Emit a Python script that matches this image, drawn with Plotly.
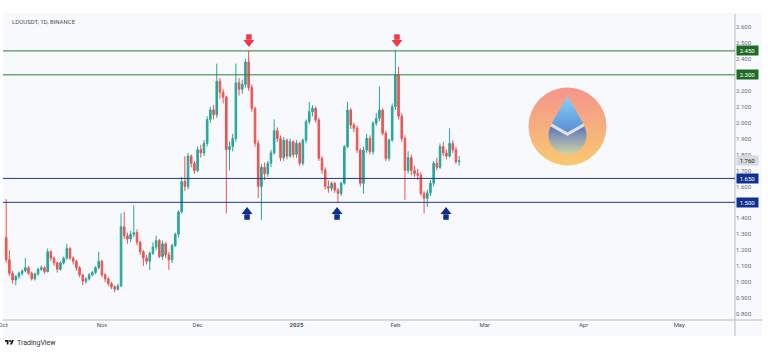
import base64
import pandas as pd
import plotly.graph_objects as go

# ---------------- data ----------------
TITLE = "LDOUSDT, 1D, BINANCE"
START_DATE = "2024-10-02"

opens = [1.28, 1.14, 1.055, 1.013, 1.034, 1.055, 1.07, 1.09, 1.055, 1.02, 1.05, 1.08, 1.09, 1.065, 1.19, 1.15,
         1.12, 1.08, 1.12, 1.15, 1.21, 1.15, 1.13, 1.09, 1.045, 1.005, 1.02, 1.045, 1.06, 1.09, 1.13,
         1.045, 1.02, 0.99, 0.97, 0.955, 0.975, 1.347, 1.29, 1.27, 1.30, 1.31, 1.25, 1.19, 1.15, 1.13,
         1.18, 1.22, 1.26, 1.16, 1.24, 1.17, 1.14, 1.23, 1.30, 1.44, 1.63, 1.60, 1.79, 1.745, 1.70,
         1.83, 1.81, 1.87, 2.02, 2.08, 2.05, 2.26, 2.19, 2.16, 1.83, 1.85, 1.90, 2.25, 2.21, 2.24, 2.38,
         2.22, 2.09, 1.87, 1.60, 1.72, 1.68, 1.745, 1.81, 1.95, 1.90, 1.78, 1.89, 1.79, 1.88, 1.80,
         1.87, 1.745, 1.89, 2.006, 2.069, 2.09, 2.017, 1.776, 1.703, 1.60, 1.588, 1.619, 1.577, 1.556,
         1.62, 1.849, 2.079, 1.985, 1.965, 1.828, 1.619, 1.828, 1.902, 1.818, 1.996, 2.027, 2.079,
         1.933, 1.776, 1.891, 2.10,
         2.30, 2.04, 1.90, 1.70, 1.78, 1.70, 1.68, 1.67, 1.556, 1.525, 1.56, 1.62, 1.745, 1.72, 1.85,
         1.81, 1.79, 1.87, 1.83, 1.755]
closes = [1.14, 1.055, 1.013, 1.034, 1.055, 1.07, 1.09, 1.055, 1.02, 1.05, 1.08, 1.09, 1.065, 1.19, 1.15, 1.12,
          1.08, 1.12, 1.15, 1.21, 1.15, 1.13, 1.09, 1.045, 1.005, 1.02, 1.045, 1.06, 1.09, 1.13, 1.045,
          1.02, 0.99, 0.97, 0.955, 0.975, 1.347, 1.29, 1.27, 1.30, 1.31, 1.25, 1.19, 1.15, 1.13, 1.18,
          1.22, 1.26, 1.16, 1.24, 1.17, 1.14, 1.23, 1.30, 1.44, 1.63, 1.60, 1.79, 1.745, 1.70, 1.83,
          1.81, 1.87, 2.02, 2.08, 2.05, 2.26, 2.19, 2.16, 1.83, 1.85, 1.90, 2.25, 2.21, 2.24, 2.38, 2.22,
          2.09, 1.87, 1.60, 1.72, 1.68, 1.745, 1.81, 1.95, 1.90, 1.78, 1.89, 1.79, 1.88, 1.80, 1.87,
          1.745, 1.89, 2.006, 2.069, 2.09, 2.017, 1.776, 1.703, 1.60, 1.588, 1.619, 1.577, 1.556, 1.62,
          1.849, 2.079, 1.985, 1.965, 1.828, 1.619, 1.828, 1.902, 1.818, 1.996, 2.027, 2.079, 1.933,
          1.776, 1.891, 2.10, 2.30,
          2.04, 1.90, 1.70, 1.78, 1.70, 1.68, 1.67, 1.556, 1.525, 1.56, 1.62, 1.745, 1.72, 1.85, 1.81,
          1.79, 1.87, 1.83, 1.755, 1.76]
highs = [1.52, 1.20, 1.07, 1.045, 1.065, 1.08, 1.15, 1.10, 1.065, 1.06, 1.09, 1.105, 1.10, 1.21, 1.20, 1.16,
         1.13, 1.13, 1.16, 1.24, 1.22, 1.16, 1.14, 1.10, 1.05, 1.03, 1.055, 1.07, 1.10, 1.19, 1.14,
         1.055, 1.03, 1.00, 0.98, 0.99, 1.43, 1.44, 1.31, 1.32, 1.48, 1.33, 1.26, 1.20, 1.17, 1.19,
         1.25, 1.29, 1.27, 1.26, 1.25, 1.19, 1.24, 1.31, 1.45, 1.66, 1.79, 1.81, 1.80, 1.76, 1.85,
         1.86, 1.89, 2.04, 2.10, 2.11, 2.37, 2.28, 2.21, 2.17, 1.88, 1.93, 2.37, 2.28, 2.27, 2.40, 2.45,
         2.24, 2.10, 1.89, 1.74, 1.75, 1.76, 1.83, 2.02, 1.97, 1.92, 1.91, 1.90, 1.90, 1.89, 1.89,
         1.88, 1.90, 2.02, 2.13, 2.11, 2.10, 2.03, 1.79, 1.72, 1.64, 1.63, 1.63, 1.59, 1.63,
         1.86, 2.13, 2.09, 2.00, 1.98, 1.84, 1.85, 1.93, 1.92, 2.01, 2.06, 2.226,
         2.09, 1.95, 1.90, 2.12, 2.456,
         2.35, 2.06, 1.92, 1.82, 1.80, 1.73, 1.71, 1.69, 1.57, 1.58, 1.64, 1.76, 1.78, 1.87,
         1.88, 1.83, 1.965, 1.89, 1.85, 1.79]
lows = [1.12, 1.04, 0.99, 0.98, 1.02, 1.04, 1.06, 1.045, 1.01, 1.01, 1.04, 1.07, 1.05, 1.06, 1.13, 1.10,
        1.06, 1.07, 1.11, 1.14, 1.14, 1.11, 1.07, 1.03, 0.98, 0.99, 1.01, 1.035, 1.05, 1.08, 1.03,
        1.00, 0.975, 0.955, 0.935, 0.945, 0.97, 1.27, 1.24, 1.25, 1.28, 1.23, 1.17, 1.10, 1.11, 1.076,
        1.17, 1.20, 1.15, 1.14, 1.15, 1.076, 1.12, 1.22, 1.28, 1.43, 1.57, 1.58, 1.72, 1.68, 1.69,
        1.78, 1.79, 1.85, 2.00, 2.02, 2.03, 2.15, 2.12, 1.43, 1.70, 1.82, 1.88, 2.17, 2.18, 2.22, 2.20,
        2.07, 1.85, 1.525, 1.39, 1.64, 1.66, 1.72, 1.80, 1.88, 1.76, 1.76, 1.77, 1.78, 1.78, 1.78,
        1.73, 1.73, 1.87, 1.99, 2.04, 2.00, 1.76, 1.68, 1.58, 1.56, 1.57, 1.56, 1.494, 1.54,
        1.61, 1.84, 1.96, 1.94, 1.81, 1.60, 1.556, 1.81, 1.80, 1.80, 1.98, 2.01,
        1.92, 1.76, 1.76, 1.88, 2.08,
        2.02, 1.88, 1.515, 1.68, 1.67, 1.66, 1.64, 1.54, 1.431, 1.47, 1.54, 1.60, 1.70, 1.71,
        1.79, 1.77, 1.78, 1.81, 1.74, 1.73]

dates = pd.date_range(START_DATE, periods=len(closes), freq="D")

resistance_levels = [2.450, 2.300]
support_levels = [1.650, 1.500]
last_price = 1.760

top_arrow_dates = ["2024-12-17 02:00", "2025-02-01 12:00"]
bottom_arrow_dates = ["2024-12-16 12:00", "2025-01-13 17:00", "2025-02-16 21:00"]

month_ticks = ["2024-10-01", "2024-11-01", "2024-12-01", "2025-01-01",
               "2025-02-01", "2025-03-01", "2025-04-01", "2025-05-01"]
month_labels = ["Oct", "Nov", "Dec", "<b>2025</b>", "Feb", "Mar", "Apr", "May"]

all_price_ticks = [round(0.8 + 0.1 * k, 1) for k in range(19)]
# tick values hidden behind the level labels on the price scale
price_ticks = [t for t in all_price_ticks
               if all(abs(t - l) > 1e-9 for l in resistance_levels + support_levels)]

# ---------------- styles ----------------
UP = "#26a69a"
DOWN = "#ef5350"
GREEN_LVL = "#2e7d32"
BLUE_LVL = "#1c3a96"
PANEL = "#f8f9fd"
SEP = "#b8bbc3"
FONT = "Roboto, sans-serif"

fig = go.Figure()

fig.add_trace(go.Candlestick(
    x=dates, open=opens, high=highs, low=lows, close=closes,
    increasing=dict(line=dict(color=UP, width=1), fillcolor=UP),
    decreasing=dict(line=dict(color=DOWN, width=1), fillcolor=DOWN),
    whiskerwidth=0, hoverinfo="skip", showlegend=False,
))

# arrows (head + stem)
fig.add_trace(go.Scatter(
    x=top_arrow_dates, y=[2.537] * len(top_arrow_dates), mode="markers",
    marker=dict(symbol="square", size=5.5, color="#f23645", line=dict(width=0)),
    hoverinfo="skip", showlegend=False))
fig.add_trace(go.Scatter(
    x=top_arrow_dates, y=[2.504] * len(top_arrow_dates), mode="markers",
    marker=dict(symbol="triangle-down", size=9.5, color="#f23645", line=dict(width=0)),
    hoverinfo="skip", showlegend=False))
fig.add_trace(go.Scatter(
    x=bottom_arrow_dates, y=[1.408] * len(bottom_arrow_dates), mode="markers",
    marker=dict(symbol="square", size=5.5, color="#0d2f91", line=dict(width=0)),
    hoverinfo="skip", showlegend=False))
fig.add_trace(go.Scatter(
    x=bottom_arrow_dates, y=[1.441] * len(bottom_arrow_dates), mode="markers",
    marker=dict(symbol="triangle-up", size=9.5, color="#0d2f91", line=dict(width=0)),
    hoverinfo="skip", showlegend=False))

shapes = []
# panel background
shapes.append(dict(type="rect", xref="paper", yref="paper", x0=0, x1=1.0369, y0=-0.0523, y1=1.0033,
                   fillcolor=PANEL, line=dict(width=0), layer="below"))
# separators
shapes.append(dict(type="line", xref="paper", yref="paper", x0=1, x1=1, y0=-0.0523, y1=1.0,
                   line=dict(color=SEP, width=1)))
shapes.append(dict(type="line", xref="paper", yref="paper", x0=0, x1=1.0369, y0=0, y1=0,
                   line=dict(color=SEP, width=1)))
for lvl in resistance_levels:
    shapes.append(dict(type="line", xref="paper", yref="y", x0=0, x1=1, y0=lvl, y1=lvl,
                       line=dict(color=GREEN_LVL, width=1)))
for lvl in support_levels:
    shapes.append(dict(type="line", xref="paper", yref="y", x0=0, x1=1, y0=lvl, y1=lvl,
                       line=dict(color=BLUE_LVL, width=1)))

annotations = []
annotations.append(dict(text=TITLE, xref="paper", yref="paper", x=0.0096, y=0.974,
                        xanchor="left", yanchor="middle", showarrow=False,
                        font=dict(family=FONT, size=6, color="#50535e")))
for lvl in resistance_levels:
    annotations.append(dict(text=f"{lvl:.3f}", xref="paper", yref="y", x=1, y=lvl,
                            xanchor="left", yanchor="middle", xshift=1, showarrow=False,
                            bgcolor="#1e6b23", borderpad=1, width=19,
                            font=dict(family=FONT, size=6, color="white")))
for lvl in support_levels:
    annotations.append(dict(text=f"{lvl:.3f}", xref="paper", yref="y", x=1, y=lvl,
                            xanchor="left", yanchor="middle", xshift=1, showarrow=False,
                            bgcolor="#12308f", borderpad=1, width=19,
                            font=dict(family=FONT, size=6, color="white")))
annotations.append(dict(text=f"{last_price:.3f}", xref="paper", yref="y", x=1, y=last_price,
                        xanchor="left", yanchor="middle", xshift=1, showarrow=False,
                        bgcolor="#d6d9e1", borderpad=1, width=19,
                        font=dict(family=FONT, size=6, color="#131722")))
annotations.append(dict(text="TradingView", xref="paper", yref="paper", x=0.0164, y=-0.075,
                        xanchor="left", yanchor="middle", showarrow=False,
                        font=dict(family=FONT, size=7, color="#2a2e39")))

# decorative logos
lido_svg = '''<svg xmlns="http://www.w3.org/2000/svg" viewBox="0 0 80 80" width="160" height="160">
<defs>
<linearGradient id="bg" x1="0" y1="0" x2="0" y2="1"><stop offset="0" stop-color="#f5948c"/><stop offset="1" stop-color="#f8c970"/></linearGradient>
<linearGradient id="tp" x1="0" y1="0" x2="0" y2="1"><stop offset="0" stop-color="#82d3f6"/><stop offset="1" stop-color="#5b8cd5"/></linearGradient>
<linearGradient id="bt" x1="0" y1="0" x2="0" y2="1"><stop offset="0" stop-color="#5a76bf"/><stop offset="1" stop-color="#d2d4a6"/></linearGradient>
</defs>
<circle cx="40" cy="40" r="39.5" fill="url(#bg)"/>
<path d="M40 9 L56 37 L40 46 L24 37 Z" fill="url(#tp)"/>
<path d="M24 37 L40 46 L56 37 L57 40 L40 49.5 L23 40 Z" fill="#dde1ee"/>
<path d="M23 40 L40 49.5 L57 40 A19.2 19.2 0 1 1 23 40 Z" fill="url(#bt)"/>
</svg>'''
tv_svg = '''<svg xmlns="http://www.w3.org/2000/svg" viewBox="0 0 36 28" width="72" height="56">
<path d="M14 22H7V11H0V4h14v18zM28 22h-8l7.5-18h8L28 22z" fill="#131722"/>
<circle cx="20" cy="8" r="4" fill="#131722"/></svg>'''


def uri(svg):
    return "data:image/svg+xml;base64," + base64.b64encode(svg.encode()).decode()


images = [
    dict(source=uri(lido_svg), xref="paper", yref="paper", x=0.7172, y=0.7614,
         sizex=0.1079, sizey=0.2582, xanchor="left", yanchor="top", sizing="stretch", layer="above"),
    dict(source=uri(tv_svg), xref="paper", yref="paper", x=0.0027, y=-0.062,
         sizex=0.0123, sizey=0.0229, xanchor="left", yanchor="top", sizing="stretch", layer="above"),
]

fig.update_layout(
    width=768, height=354,
    margin=dict(l=3, r=33, t=14, b=34, pad=0, autoexpand=False),
    paper_bgcolor="white", plot_bgcolor=PANEL,
    font=dict(family=FONT, size=6, color="#50535e"),
    showlegend=False,
    shapes=shapes, annotations=annotations, images=images,
    xaxis=dict(range=["2024-09-30 23:50", "2025-05-18 11:17"], rangeslider=dict(visible=False),
               tickmode="array", tickvals=month_ticks, ticktext=month_labels,
               ticklabeloverflow="allow", automargin=False,
               showgrid=False, zeroline=False, showline=False, ticks="",
               tickfont=dict(family=FONT, size=6, color="#50535e")),
    yaxis=dict(range=[0.7618, 2.6816], side="right", tickmode="array", tickvals=price_ticks,
               tickformat=".3f", showgrid=False, zeroline=False, showline=False, ticks="",
               automargin=False,
               tickfont=dict(family=FONT, size=6, color="#6a6d78")),
)

fig.write_html("out.html")
